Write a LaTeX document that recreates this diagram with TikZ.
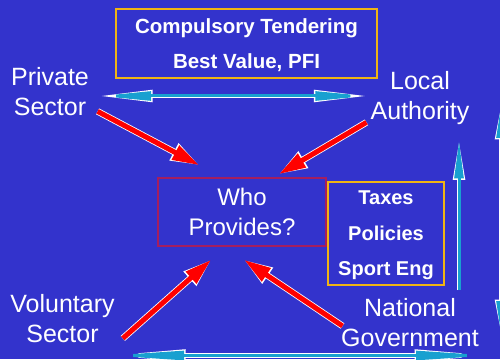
\documentclass[tikz,border=0pt]{standalone}
\usepackage{fontspec}
\setmainfont{Liberation Sans}
\usetikzlibrary{arrows.meta}
\definecolor{bgblue}{RGB}{51,51,204}
\definecolor{boxgold}{RGB}{240,180,20}
\definecolor{whored}{RGB}{165,30,95}
\definecolor{arrowcyan}{RGB}{24,160,208}
\begin{document}
\begin{tikzpicture}[x=1pt, y=1pt,
    sector/.style={text=white, align=center, inner sep=0pt,
        font=\fontsize{25}{30}\selectfont},
    goldbox/.style={draw=boxgold, line width=1.6pt, text=white, align=center,
        text depth=0pt, font=\bfseries\fontsize{20.5}{35.5}\selectfont},
    whobox/.style={draw=whored, line width=1.6pt, text=white, align=center,
        font=\fontsize{24}{30}\selectfont},
    redarrow/.style={draw=red, line width=5pt,
        arrows={-Triangle[length=22pt 1, width=7pt 1.6]},
        preaction={draw=white, line width=6.6pt}},
    cyanarrow/.style={draw=arrowcyan, line width=3pt,
        preaction={draw=white, line width=4.5pt}},
    cyanends/.style={arrows={Triangle[length=#1 1, width=4pt 1.6]-Triangle[length=#1 1, width=4pt 1.6]}},
    cyanend/.style={arrows={-Triangle[length=#1 1, width=4pt 1.6]}}]
    \fill[bgblue] (0,0) rectangle (500,359);
    \useasboundingbox (0,0) rectangle (500,359);

    \node[goldbox, minimum width=261pt, minimum height=69pt] (tender) at (246.5,315.5)
        {Compulsory Tendering\\Best Value, PFI};
    \node[whobox, minimum width=168pt, minimum height=68pt] (who) at (242,147)
        {Who\\Provides?};
    \node[goldbox, font=\bfseries\fontsize{20}{35.5}\selectfont,
        minimum width=116pt, minimum height=103pt] (tax) at (386,125.5)
        {Taxes\\Policies\\Sport Eng};

    \node[sector] (ps) at (50,267.5) {Private\\Sector};
    \node[sector] (la) at (420,261) {Local\\Authority};
    \node[sector] (vs) at (62.5,40.5) {Voluntary\\Sector};
    \node[sector] (ng) at (410,36.5) {National\\Government};

    \coordinate (rtop) at (501,254);
    \coordinate (rbot) at (501,25);
    \coordinate (bleft) at (107,3.5);
    \coordinate (bright) at (493,3.5);

    % links to the provider
    \draw[redarrow] ([shift={(8.5,4.5)}]ps.south east) -- ([shift={(42,12)}]who.north west);
    \draw[redarrow] ([shift={(-4,2.5)}]la.south west) -- ([shift={(-48,3)}]who.north east);
    \draw[redarrow] ([shift={(8,4.5)}]vs.south east) -- ([shift={(54,-13)}]who.south west);
    \draw[redarrow] ([shift={(1.5,-3.5)}]ng.west) -- ([shift={(2,-13)}]who.south);

    % links between the sectors
    \draw[cyanarrow, cyanends=50pt] ([shift={(9,-4.5)}]ps.east) -- ([shift={(-2,2)}]la.west);
    \draw[cyanarrow, cyanend=35pt] ([shift={(49,8)}]ng.north) -- ([shift={(39,-15.5)}]la.south);
    \draw[cyanarrow, cyanends=30pt] (rtop) -- (rbot);
    \draw[cyanarrow, cyanends=74pt] (bleft) -- (bright);
\end{tikzpicture}
\end{document}
